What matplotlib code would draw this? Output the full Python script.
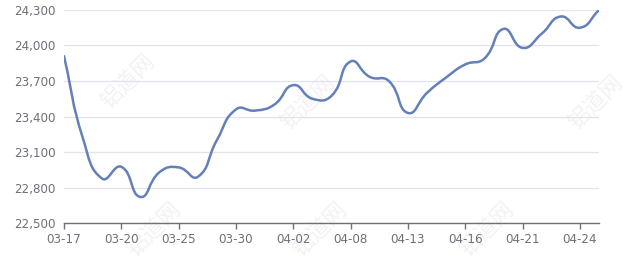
import numpy as np
import matplotlib
matplotlib.use("Agg")
import matplotlib.pyplot as plt
from matplotlib.path import Path
from matplotlib.patches import PathPatch

dates = ["03-17", "03-18", "03-19", "03-20", "03-21", "03-24", "03-25", "03-26",
         "03-27", "03-30", "03-31", "04-01", "04-02", "04-03", "04-07", "04-08",
         "04-09", "04-10", "04-13", "04-14", "04-15", "04-16", "04-17", "04-18",
         "04-21", "04-22", "04-23", "04-24", "04-25"]
prices = [23910, 23210, 22875, 22975, 22720, 22930, 22970, 22890, 23200, 23460,
          23450, 23500, 23665, 23550, 23575, 23865, 23735, 23700, 23430, 23600,
          23730, 23840, 23890, 24140, 23980, 24100, 24245, 24150, 24300]
y_ticks = [22500, 22800, 23100, 23400, 23700, 24000, 24300]
label_every = 3

fig = plt.figure(figsize=(6.4, 2.7), dpi=100)
ax = fig.add_axes([0.1, 0.174, 0.836, 0.789])
ax.set_zorder(2)
ax.patch.set_alpha(0)
n = len(prices)
ax.set_xlim(0, n - 1)
ax.set_ylim(y_ticks[0], y_ticks[-1])

# echarts-like smooth curve, computed in display space
xs = np.arange(n)
pts = ax.transData.transform(np.column_stack([xs, prices]))
smooth = 0.5
verts = [tuple(pts[0])]
codes = [Path.MOVETO]
cps = []
for i in range(n):
    p = pts[i]
    prev = pts[i - 1] if i > 0 else p
    nxt = pts[i + 1] if i < n - 1 else p
    v = nxt - prev
    d0 = np.hypot(*(p - prev))
    d1 = np.hypot(*(nxt - p))
    r = d1 / (d0 + d1) if (d0 + d1) > 0 else 0.5
    cps.append((p - v * smooth * (1 - r), p + v * smooth * r))
for i in range(n - 1):
    c1 = cps[i][1]
    c2 = cps[i + 1][0]
    verts += [tuple(c1), tuple(c2), tuple(pts[i + 1])]
    codes += [Path.CURVE4] * 3
inv = ax.transData.inverted()
verts = inv.transform(np.array(verts))
path = Path(verts, codes)
ax.add_patch(PathPatch(path, facecolor="none", edgecolor="#6380b8", lw=1.8,
                       capstyle="round", joinstyle="round", zorder=3))

# grid / axes
ax.set_yticks(y_ticks)
ax.set_yticklabels([f"{v:,}" for v in y_ticks])
ax.grid(axis="y", color="#e0e3ea", lw=0.9)
ax.set_axisbelow(True)
tick_idx = list(range(0, n, label_every))
ax.set_xticks(tick_idx)
ax.set_xticklabels([dates[i] for i in tick_idx])
for s in ["top", "right", "left"]:
    ax.spines[s].set_visible(False)
ax.spines["bottom"].set_color("#6e7079")
ax.spines["bottom"].set_linewidth(1.0)
ax.tick_params(axis="y", length=0, pad=6, labelsize=8.6, labelcolor="#6e7079")
ax.tick_params(axis="x", length=4, width=1, color="#6e7079", pad=3,
               labelsize=8.6, labelcolor="#6e7079")

# faint watermarks (behind the chart)
for (wx, wy) in [(0.20, 0.70), (0.48, 0.62), (0.93, 0.62), (0.24, 0.15),
                 (0.50, 0.15), (0.76, 0.15)]:
    fig.text(wx, wy, "铝道网", rotation=45, fontsize=16, color="#f3f3f3",
             family=["Noto Sans CJK SC", "DejaVu Sans"], ha="center",
             va="center", zorder=0)

fig.savefig("out.png", dpi=100)
